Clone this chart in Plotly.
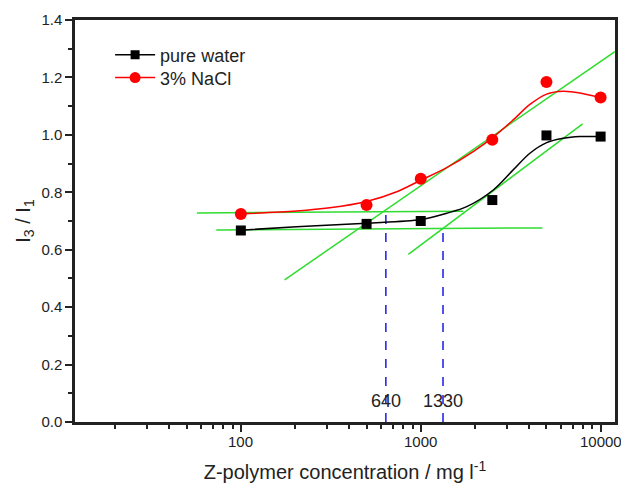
import math
import plotly.graph_objects as go

# measured data
conc = [100, 500, 1000, 2500, 5000, 10000]
water = [0.667, 0.69, 0.70, 0.773, 0.998, 0.994]
nacl = [0.724, 0.756, 0.847, 0.983, 1.184, 1.13]

# fitted curves
water_fit_x = [100, 204, 500, 1000, 1394, 1802, 2531, 3266, 4044, 5012, 6194, 7674, 10000]
water_fit_y = [0.668, 0.68, 0.692, 0.705, 0.727, 0.75, 0.808, 0.878, 0.936, 0.973, 0.988, 0.994, 0.994]
nacl_fit_x = [100, 204, 312, 500, 736, 1000, 1394, 1958, 2531, 3266, 4044, 5012, 6194, 7674, 10000]
nacl_fit_y = [0.725, 0.735, 0.746, 0.768, 0.802, 0.842, 0.886, 0.942, 0.992, 1.052, 1.106, 1.142, 1.152, 1.146, 1.13]

# tangent lines
tan_upper_x = [57, 1725]
tan_upper_y = [0.728, 0.734]
tan_lower_x = [73, 4745]
tan_lower_y = [0.669, 0.676]
tan_long_x = [175, 12000]
tan_long_y = [0.495, 1.29]
tan_short_x = [853, 7943]
tan_short_y = [0.584, 1.038]

# CMC markers
cmc_x = [640, 1330]
cmc_top = [0.733, 0.673]
cmc_labels = ["640", "1330"]

# axis ticks
x_tickvals = [100, 1000, 10000]
x_ticktext = ["100", "1000", "10000"]

green = "#2fdc2f"
fig = go.Figure()

for tx, ty in [(tan_upper_x, tan_upper_y), (tan_lower_x, tan_lower_y),
               (tan_long_x, tan_long_y), (tan_short_x, tan_short_y)]:
    fig.add_trace(go.Scatter(x=tx, y=ty, mode="lines", line=dict(color=green, width=1.5),
                             showlegend=False, hoverinfo="skip"))

for cx, ct in zip(cmc_x, cmc_top):
    fig.add_trace(go.Scatter(x=[cx, cx], y=[0, ct], mode="lines",
                             line=dict(color="#1a1ae6", width=1.5, dash="dash"),
                             showlegend=False, hoverinfo="skip"))

fig.add_trace(go.Scatter(x=water_fit_x, y=water_fit_y, mode="lines", line_shape="spline",
                         line=dict(color="black", width=1.5, smoothing=0.9), showlegend=False))
fig.add_trace(go.Scatter(x=nacl_fit_x, y=nacl_fit_y, mode="lines", line_shape="spline",
                         line=dict(color="#ff0000", width=1.5, smoothing=0.9), showlegend=False))

fig.add_trace(go.Scatter(x=conc, y=water, mode="markers",
                         marker=dict(symbol="square", size=10, color="black"), showlegend=False))
fig.add_trace(go.Scatter(x=conc, y=nacl, mode="markers",
                         marker=dict(symbol="circle", size=12, color="#ff0000"), showlegend=False))

# legend entries
fig.add_trace(go.Scatter(x=[None], y=[None], mode="lines+markers", name="pure water",
                         line=dict(color="black", width=1.5), legend="legend",
                         marker=dict(symbol="square", size=9, color="black")))
fig.add_trace(go.Scatter(x=[None], y=[None], mode="lines+markers", name="3% NaCl",
                         line=dict(color="#ff0000", width=1.5), legend="legend2",
                         marker=dict(symbol="circle", size=11, color="#ff0000")))

for cx, lab in zip(cmc_x, cmc_labels):
    fig.add_annotation(x=math.log10(cx), y=0.074, xref="x", yref="y", text=lab, showarrow=False,
                       font=dict(size=18, color="#222"))

# tick labels drawn as annotations so the last one may be cut by the page edge
for tv, tt in zip(x_tickvals, x_ticktext):
    fig.add_annotation(x=math.log10(tv), y=0, xref="x", yref="paper", text=tt, showarrow=False,
                       yanchor="top", yshift=-9, font=dict(size=15, color="#222"))

minor_x = [m * 10 ** e for e in (1, 2, 3) for m in range(2, 10)]

fig.update_xaxes(type="log", range=[1.078, 4.08], automargin=False,
                 tickvals=x_tickvals, showticklabels=False,
                 ticks="outside", ticklen=7, tickwidth=2, tickcolor="#222",
                 minor=dict(tickvals=minor_x, ticks="outside", ticklen=4, tickwidth=2,
                            tickcolor="#222", showgrid=False),
                 showline=True, linecolor="#222", linewidth=2.5, mirror=True,
                 showgrid=False, zeroline=False,
                 title=dict(text="Z-polymer concentration / mg l<sup>-1</sup>",
                            font=dict(size=20, color="#222"), standoff=35))
fig.update_yaxes(range=[0, 1.4], dtick=0.2, tickformat=".1f", automargin=False,
                 ticks="outside", ticklen=7, tickwidth=2, tickcolor="#222",
                 minor=dict(dtick=0.1, ticks="outside", ticklen=4, tickwidth=2,
                            tickcolor="#222", showgrid=False),
                 showline=True, linecolor="#222", linewidth=2.5, mirror=True,
                 showgrid=False, zeroline=False,
                 tickfont=dict(size=15, color="#222"),
                 title=dict(text="I<sub>3</sub> / I<sub>1</sub>",
                            font=dict(size=20, color="#222"), standoff=6))

leg_common = dict(x=0.065, xanchor="left", yanchor="middle",
                  font=dict(size=18, color="#222"), bgcolor="rgba(0,0,0,0)", itemwidth=40)
fig.update_layout(
    width=621, height=485,
    margin=dict(l=75, r=6, t=20, b=63),
    paper_bgcolor="white", plot_bgcolor="white",
    font=dict(family="Liberation Sans, Arial, sans-serif", color="#222"),
    legend=dict(y=0.913, **leg_common),
    legend2=dict(y=0.856, **leg_common),
)

fig.write_html("out.html")
